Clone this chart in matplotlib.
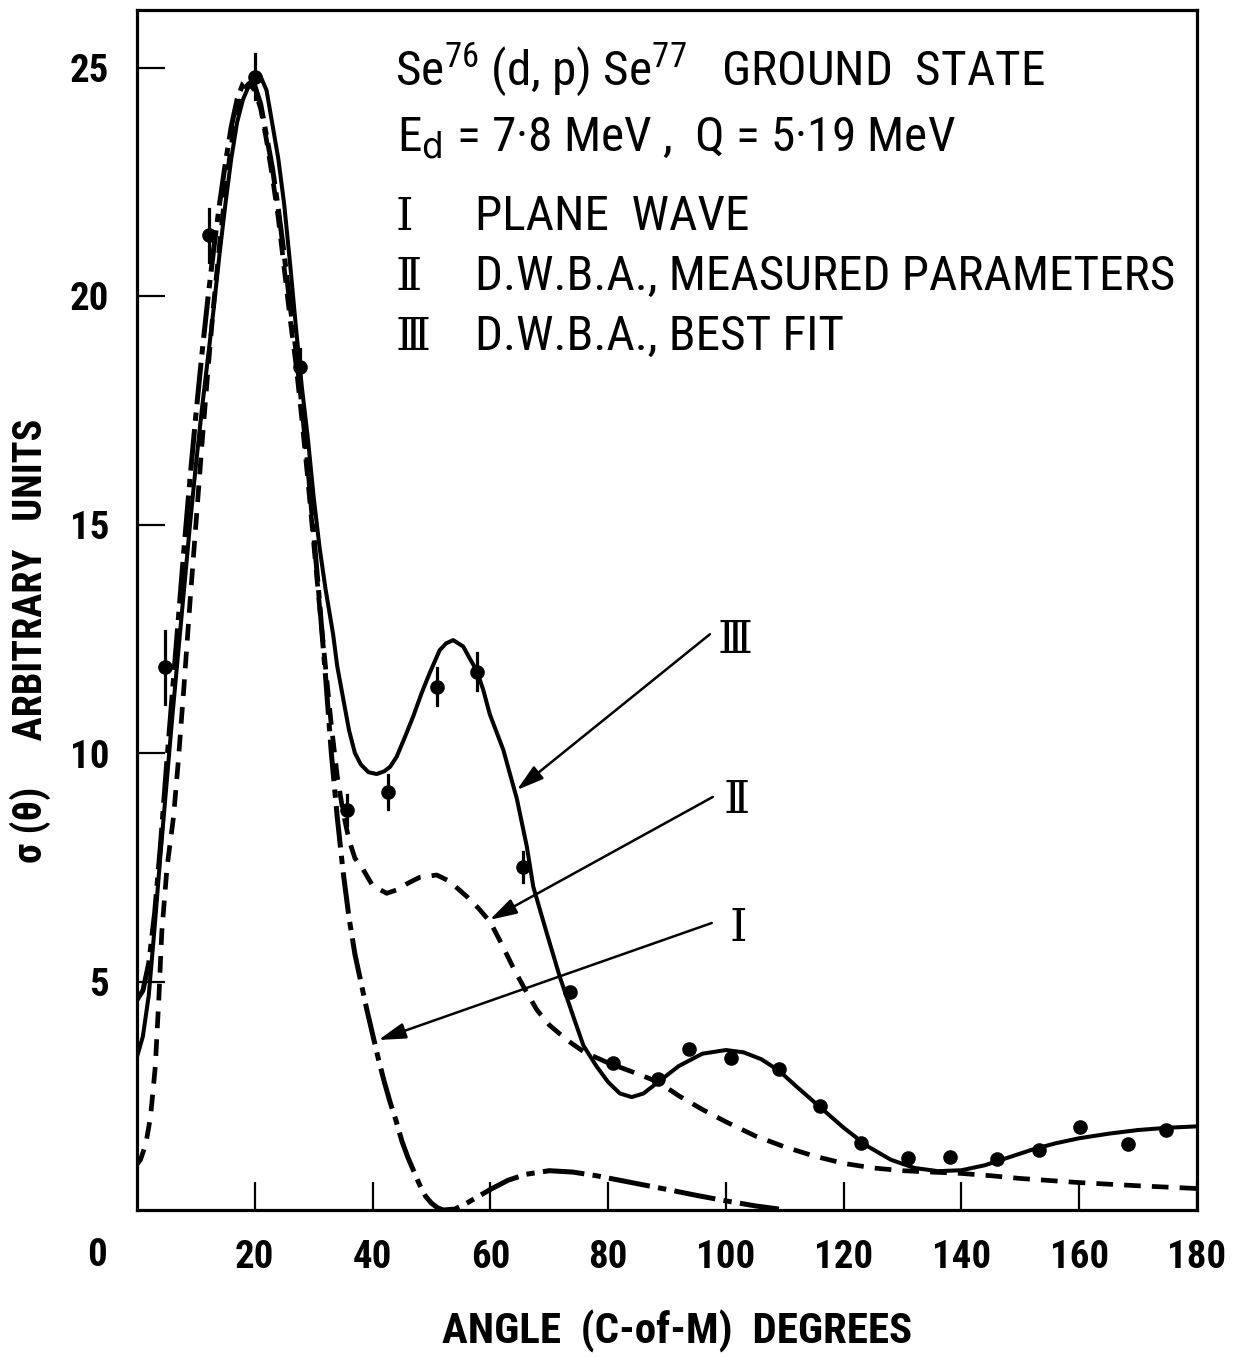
import matplotlib
matplotlib.use("Agg")
import matplotlib.pyplot as plt
from matplotlib import font_manager as fm

# ---------------- data ----------------
# Curve I : plane wave (dash-dot)
plane_x = [0, 1, 2, 3, 4, 5, 6, 7, 8, 9, 10, 11, 12, 13, 14, 15, 16, 17, 18, 19,
           20, 21, 22, 23, 24, 25, 26, 27, 28, 29, 30, 31, 32, 33, 34, 35, 36, 37,
           38, 39, 40, 41, 42, 43, 44, 45, 46, 47, 48, 49, 50, 51, 52, 54, 56, 58,
           60, 63, 66, 70, 74, 78, 82, 86, 90, 95, 100, 105, 109]
plane_y = [4.6, 4.8, 5.4, 6.5, 8.0, 9.7, 11.3, 12.9, 14.5, 16.0, 17.4, 18.7, 19.9,
           21.0, 22.0, 22.9, 23.7, 24.3, 24.65, 24.75, 24.6, 24.2, 23.5, 22.8, 21.9,
           20.9, 19.8, 18.8, 17.6, 16.3, 14.8, 13.3, 11.7, 10.0, 8.6, 7.4, 6.4, 5.6,
           5.0, 4.4, 3.85, 3.3, 2.8, 2.35, 1.95, 1.5, 1.15, 0.85, 0.55, 0.3, 0.15,
           0.05, 0.0, 0.02, 0.15, 0.3, 0.45, 0.65, 0.78, 0.86, 0.83, 0.75, 0.65,
           0.55, 0.45, 0.32, 0.2, 0.09, 0.02]

# Curve II : DWBA, measured parameters (short dashes)
dwba_x = [0, 0.6, 1.5, 2.3, 3.1, 3.7, 4.2, 5.1, 6.2, 7, 8, 9, 10, 11, 12, 13, 14,
          15, 16, 17, 18, 19, 20, 21, 22, 23, 24, 25, 26, 27, 28, 29, 30, 31, 32,
          33, 34, 35, 36, 37, 38.4, 40, 42.4, 44, 46, 48, 50.9, 53, 56, 58, 60, 62,
          63.9, 66, 67.9, 70, 73, 76, 80, 85, 88.5, 92, 96, 100, 105, 110, 115,
          120, 125, 130, 135, 140, 145, 150, 160, 170, 180]
dwba_y = [1.0, 1.1, 1.45, 2.04, 3.13, 4.6, 6.06, 7.5, 8.6, 9.8, 11.5, 13.3, 15.0,
          16.7, 18.3, 19.8, 21.1, 22.3, 23.3, 24.0, 24.5, 24.65, 24.5, 24.1, 23.4,
          22.6, 21.7, 20.6, 19.5, 18.5, 17.3, 16.0, 14.6, 13.2, 11.9, 10.6, 9.5,
          8.7, 8.1, 7.7, 7.45, 7.1, 6.93, 7.0, 7.15, 7.28, 7.33, 7.2, 6.86, 6.6,
          6.3, 5.8, 5.3, 4.8, 4.38, 4.05, 3.72, 3.45, 3.22, 2.98, 2.8, 2.5, 2.2,
          1.93, 1.62, 1.38, 1.18, 1.02, 0.92, 0.86, 0.83, 0.8, 0.75, 0.69, 0.6,
          0.53, 0.47]

# Curve III : DWBA, best fit (solid)
best_x = [0, 1, 2, 3, 4, 5, 6, 7, 8, 9, 10, 11, 12, 13, 14, 15, 16, 17, 18, 19,
          20, 21, 22, 23.2, 24, 25, 26, 27, 28, 29, 30, 31, 32, 33.3, 34, 35, 36,
          37, 38, 39.3, 40.7, 42, 43, 44.1, 45.5, 46.9, 48.3, 49.7, 51.4, 52.5, 53.7,
          55.4, 56.5, 57.7, 58.8, 59.9, 62.2, 64.5, 66.2, 67.3, 69.6, 71.8, 74.1,
          75.8, 78, 80, 82, 84, 86, 88, 92, 96, 100, 103, 106, 109, 112, 116, 120,
          124, 128, 132, 136, 140, 144, 148, 152, 156, 160, 165, 170, 175, 180]
best_y = [3.35, 3.8, 4.7, 6.2, 7.8, 9.3, 10.8, 12.2, 13.6, 15.0, 16.3, 17.5, 18.6,
          19.7, 20.9, 22.0, 23.0, 23.8, 24.3, 24.6, 24.75, 24.8, 24.5, 23.6, 23.0,
          22.0, 20.7, 19.3, 18.0, 16.9, 15.6, 14.5, 13.6, 12.6, 11.9, 11.2, 10.5,
          10.0, 9.75, 9.58, 9.54, 9.6, 9.7, 9.92, 10.35, 10.8, 11.3, 11.75, 12.25,
          12.4, 12.47, 12.33, 12.07, 11.8, 11.38, 10.85, 10.07, 9.0, 7.95, 7.07,
          6.05, 5.1, 4.23, 3.6, 3.15, 2.8, 2.55, 2.47, 2.55, 2.75, 3.15, 3.42, 3.5,
          3.45, 3.3, 3.05, 2.7, 2.25, 1.8, 1.4, 1.1, 0.92, 0.85, 0.87, 0.98, 1.15,
          1.32, 1.46, 1.57, 1.67, 1.75, 1.8, 1.83]

# measured points
pts_x = [4.8, 12.2, 20.1, 27.7, 35.6, 42.7, 50.9, 57.7, 65.6, 73.5, 80.8, 88.5,
         93.7, 100.8, 109.0, 116.0, 122.9, 130.9, 138.0, 146.0, 153.1, 160.1,
         168.3, 174.7]
pts_y = [11.88, 21.33, 24.8, 18.45, 8.75, 9.15, 11.45, 11.78, 7.5, 4.77, 3.22,
         2.87, 3.52, 3.33, 3.09, 2.28, 1.47, 1.14, 1.16, 1.12, 1.31, 1.82, 1.44,
         1.75]
pts_err = [0.8, 0.58, 0.5, 0.4, 0.33, 0.37, 0.4, 0.4, 0.33, 0, 0, 0, 0, 0, 0, 0,
           0, 0, 0, 0, 0, 0, 0, 0]

x_ticks = [20, 40, 60, 80, 100, 120, 140, 160, 180]
x_tick_labels = ["20", "40", "60", "80", "100", "120", "140", "160", "180"]
y_ticks = [5, 10, 15, 20, 25]
y_tick_labels = ["5", "10", "15", "20", "25"]

title_line1 = "Se$^{76}$ (d, p) Se$^{77}$   GROUND  STATE"
title_line2 = "E$_{\\mathrm{d}}$ = 7·8 MeV ,  Q = 5·19 MeV"
legend_numerals = ["\u2160", "\u2161", "\u2162"]
legend_texts = ["PLANE  WAVE", "D.W.B.A., MEASURED PARAMETERS", "D.W.B.A., BEST FIT"]
x_label = "ANGLE  (C-of-M)  DEGREES"
y_label = "\u03c3 (\u03b8)     ARBITRARY   UNITS"

# ---------------- fonts ----------------
names = {f.name for f in fm.fontManager.ttflist}
FONT, STRETCH, WF = None, "normal", 1.0
for cand in ["Liberation Sans Narrow", "Roboto Condensed", "Open Sans Condensed"]:
    if cand in names:
        FONT = cand
        break
if FONT is None:
    if any(f.name == "DejaVu Sans" and str(f.stretch) == "condensed"
           for f in fm.fontManager.ttflist):
        FONT, STRETCH, WF = "DejaVu Sans", "condensed", 0.9
    else:
        FONT, WF = "Liberation Sans", 0.82
SC = (WF / 0.82) if WF < 1 else 1.0

plt.rcParams["font.family"] = [FONT, "DejaVu Sans"]
plt.rcParams["mathtext.default"] = "regular"
plt.rcParams["lines.scale_dashes"] = False

W, H = 1239, 1357
fig = plt.figure(figsize=(W / 100, H / 100), dpi=100)
L, R, B, T = 137, 1197, 1210, 10
ax = fig.add_axes([L / W, 1 - B / H, (R - L) / W, (B - T) / H])
ax.set_xlim(0, 180)
ax.set_ylim(0, (B - T) / 45.7)

for s in ax.spines.values():
    s.set_linewidth(2.3)

# curves
ax.plot(plane_x, plane_y, color="black", lw=3.6, dashes=(30, 6, 6, 6),
        solid_capstyle="butt", dash_capstyle="butt")
ax.plot(dwba_x, dwba_y, color="black", lw=3.4, dashes=(12, 8),
        dash_capstyle="butt")
ax.plot(best_x, best_y, color="black", lw=2.9)

# data points
for xv, yv, ev in zip(pts_x, pts_y, pts_err):
    if ev > 0:
        ax.plot([xv, xv], [yv - ev, yv + ev], color="black", lw=2.3)
ax.plot(pts_x, pts_y, "o", color="black", ms=9.5, zorder=5)

# ticks
ax.set_xticks(x_ticks)
ax.set_xticklabels(x_tick_labels)
ax.set_yticks(y_ticks)
ax.set_yticklabels(y_tick_labels)
tick_size = 28 * SC
ax.tick_params(axis="both", direction="in", length=20, width=1.6,
               labelsize=tick_size)
ax.tick_params(axis="x", pad=21)
ax.tick_params(axis="y", pad=20)
for lab in ax.get_xticklabels() + ax.get_yticklabels():
    lab.set_fontweight("bold")
    lab.set_fontstretch(STRETCH)
ax.annotate("0", xy=(0, 0), xytext=(-28.8, -32.4), textcoords="offset points",
            ha="center", va="center", fontsize=tick_size, fontweight="bold",
            fontstretch=STRETCH)

# axis labels (placed in figure pixels)
fig.text(677 / W, 1 - 1331 / H, x_label, ha="center", va="center",
         fontsize=31 * SC, fontweight="bold", fontstretch=STRETCH)
fig.text(30 / W, 1 - 641 / H, y_label, ha="center", va="center", rotation=90,
         fontsize=29 * SC, fontweight="bold", fontstretch=STRETCH)

# title block
tsize = 35.5 * SC
def dx(px):
    return (px - L) / ((R - L) / 180)
def dy(py):
    return (B - py) / 45.7

ax.text(dx(395), dy(85), title_line1, fontsize=tsize, va="baseline",
        fontstretch=STRETCH)
ax.text(dx(397), dy(152), title_line2, fontsize=tsize, va="baseline",
        fontstretch=STRETCH)
for i, (num, txt) in enumerate(zip(legend_numerals, legend_texts)):
    base = [230, 290, 350][i]
    ax.text(dx(395), dy(base), num, fontsize=tsize * 0.9, va="baseline",
            family=["DejaVu Serif", "DejaVu Sans"])
    ax.text(dx(475), dy(base), txt, fontsize=tsize, va="baseline",
            fontstretch=STRETCH)

# curve labels with arrows
arrows = [
    (legend_numerals[2], (64.5, 9.19), (97.3, 12.6), (101.5, 12.47)),
    (legend_numerals[1], (59.9, 6.35), (97.8, 9.04), (101.9, 8.97)),
    (legend_numerals[0], (41.0, 3.72), (97.6, 6.28), (102.1, 6.17)),
]
for num, tip, start, labpos in arrows:
    ax.annotate("", xy=tip, xytext=start,
                arrowprops=dict(arrowstyle="-|>,head_length=0.75,head_width=0.22",
                                mutation_scale=22, lw=1.8, color="black",
                                shrinkA=0, shrinkB=0))
    ax.text(labpos[0], labpos[1], num, fontsize=tsize * 0.9, ha="center",
            va="center", family=["DejaVu Serif", "DejaVu Sans"])

fig.savefig("out.png", dpi=100)
